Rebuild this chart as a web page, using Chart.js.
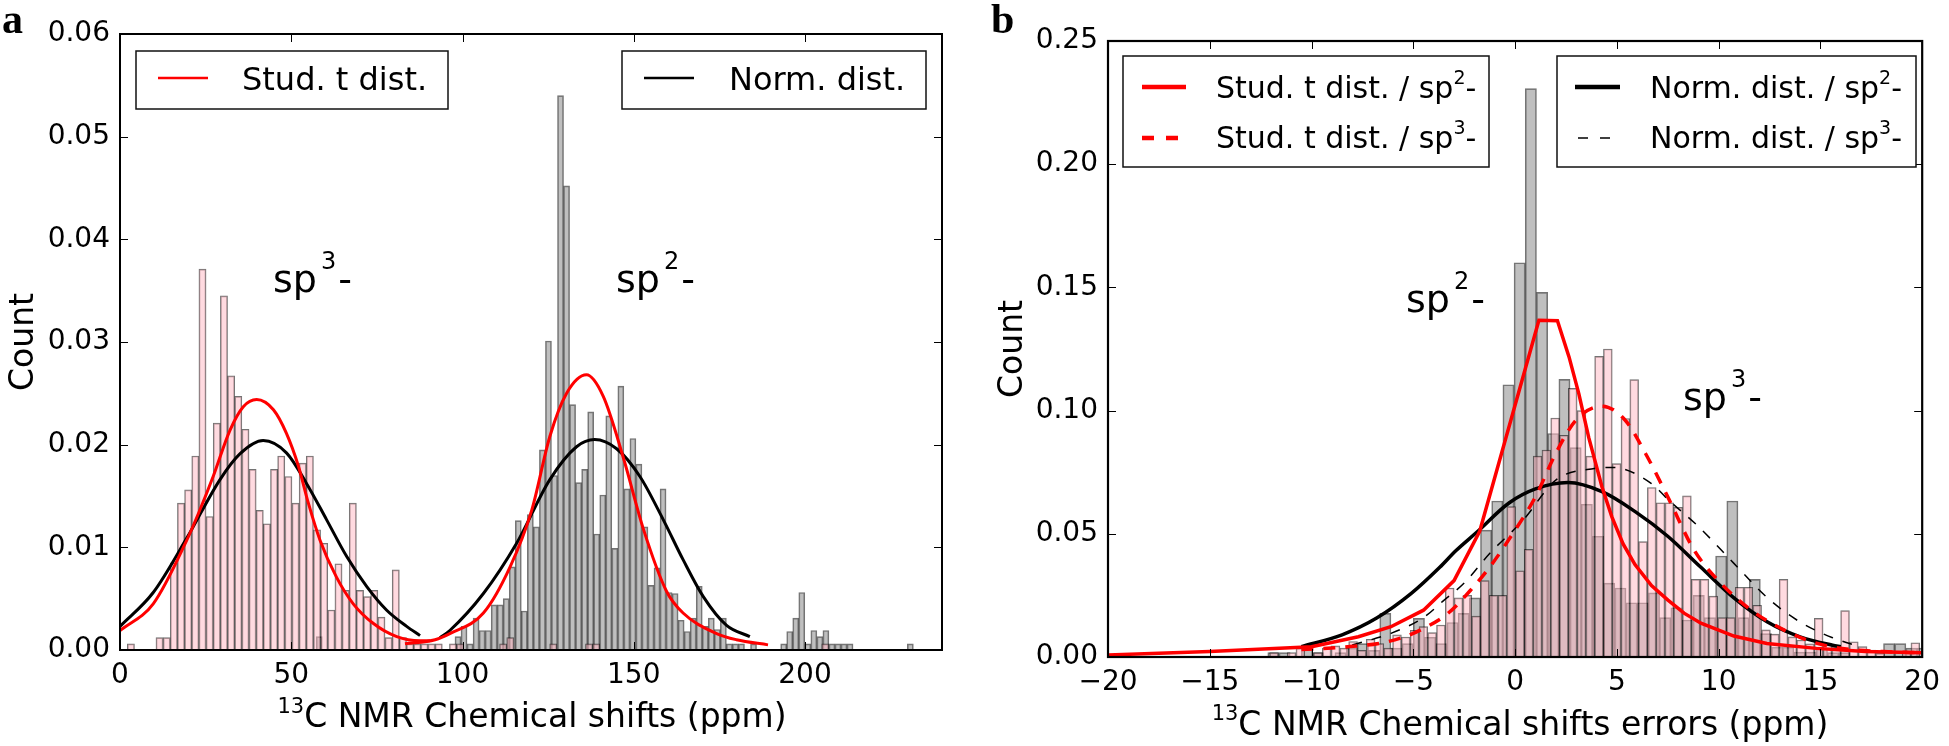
<!DOCTYPE html>
<html>
<head>
<meta charset="utf-8">
<script src="https://cdn.jsdelivr.net/npm/chart.js@4.4.1/dist/chart.umd.min.js"></script>
<style>
  body { margin: 0; background: #fff; }
  #chartA { position: absolute; left: 0; top: 0; }
  #chartB { position: absolute; left: 975px; top: 0; }
</style>
</head>
<body>
<canvas id="chartA" width="975" height="746"></canvas>
<canvas id="chartB" width="974" height="746"></canvas>
<script>
// ---------- panel a : chemical shifts ----------
const xTicksA = [0, 50, 100, 150, 200];
const xLabelsA = ['0', '50', '100', '150', '200'];
const yTicksA = [0, 0.01, 0.02, 0.03, 0.04, 0.05, 0.06];
const yLabelsA = ['0.00', '0.01', '0.02', '0.03', '0.04', '0.05', '0.06'];

// sp3 histogram (pink), 100 bins
const sp3BinStartA = 2.14, sp3BinWidthA = 2.09;
const sp3CountsA = [
  0.0006, 0, 0, 0, 0.0012, 0.0012, 0.0085, 0.0143, 0.0156, 0.0189,
  0.0371, 0.0130, 0.0221, 0.0345, 0.0267, 0.0247, 0.0215, 0.0176, 0.0136, 0.0123,
  0.0176, 0.0189, 0.0169, 0.0143, 0.0182, 0.0189, 0.0117, 0.0104, 0.0039, 0.0084,
  0.0058, 0.0143, 0.0058, 0.0052, 0.0058, 0.0032, 0.0012, 0.0078, 0.0012, 0.0006,
  0.0006, 0.0006, 0.0006, 0.0006, 0, 0.0006, 0.0006, 0, 0, 0,
  0, 0, 0.0006, 0.0012, 0, 0, 0, 0, 0, 0.0006,
  0, 0, 0, 0, 0.0006, 0.0006, 0, 0, 0, 0,
  0, 0, 0, 0, 0, 0, 0, 0, 0, 0,
  0, 0, 0, 0, 0, 0, 0, 0, 0, 0,
  0, 0, 0, 0, 0, 0, 0, 0.0006, 0, 0
];
// sp2 histogram (grey), 100 bins
const sp2BinStartA = 57.3, sp2BinWidthA = 1.761;
const sp2CountsA = [
  0.0013, 0, 0, 0, 0, 0, 0, 0, 0, 0,
  0, 0, 0, 0, 0, 0, 0, 0, 0, 0,
  0, 0, 0, 0.0013, 0.0023, 0.0006, 0.0031, 0.0019, 0.0019, 0.0044,
  0.0044, 0.0050, 0.0081, 0.0126, 0.0038, 0.0132, 0.0120, 0.0195, 0.0301, 0.0170,
  0.0540, 0.0452, 0.0239, 0.0163, 0.0176, 0.0232, 0.0113, 0.0151, 0.0228, 0.0099,
  0.0257, 0.0157, 0.0206, 0.0181, 0.0120, 0.0063, 0.0080, 0.0157, 0.0056, 0.0055,
  0.0029, 0.0018, 0.0031, 0.0062, 0.0023, 0.0031, 0.0020, 0.0031, 0.0006, 0.0006,
  0.0006, 0, 0.0006, 0, 0, 0, 0, 0.0006, 0.0018, 0.0031,
  0.0056, 0.0006, 0.0019, 0.0013, 0.0019, 0.0006, 0.0006, 0.0006, 0.0006, 0,
  0, 0, 0, 0, 0, 0, 0, 0, 0.0006, 0
];

// fitted curves, panel a
const studSp3XA = [0, 9.7, 19.5, 22.9, 27.2, 32.1, 36.0, 39.9, 44.8, 48.6, 52.1, 55.0, 58.4, 63.2, 68.1, 73.9, 80.8, 87.6, 90.5];
const studSp3YA = [0.0019, 0.0045, 0.0107, 0.0133, 0.0169, 0.0214, 0.0237, 0.0244, 0.0234, 0.0211, 0.0179, 0.0143, 0.0107, 0.0071, 0.0045, 0.0026, 0.0013, 0.0009, 0.0009];
const normSp3XA = [0, 9.7, 19.5, 29.2, 35.0, 41.8, 48.6, 54.5, 60.3, 66.2, 72.0, 77.8, 83.7, 87.6];
const normSp3YA = [0.0023, 0.0056, 0.0109, 0.0166, 0.0191, 0.0204, 0.0192, 0.0162, 0.0127, 0.0091, 0.0062, 0.0039, 0.0023, 0.0014];
const studSp2XA = [83.2, 92, 96.3, 106.1, 113.9, 120.2, 125.5, 130.4, 136.2, 141.1, 146.9, 152.8, 159.6, 164.4, 174.2, 180, 189.2];
const studSp2YA = [0.0006, 0.0010, 0.0016, 0.0036, 0.0081, 0.0136, 0.0208, 0.0250, 0.0268, 0.0247, 0.0188, 0.0118, 0.0057, 0.0036, 0.0016, 0.0010, 0.0005];
const normSp2XA = [93.4, 96.3, 106.1, 115.8, 125.5, 133.3, 138.6, 145, 151.8, 158.6, 164.4, 170.3, 177.1, 183.9];
const normSp2YA = [0.0012, 0.0019, 0.0055, 0.0104, 0.0166, 0.0198, 0.0205, 0.0196, 0.0169, 0.0127, 0.0088, 0.0052, 0.0024, 0.0013];

// ---------- panel b : chemical shift errors ----------
const xTicksB = [-20, -15, -10, -5, 0, 5, 10, 15, 20];
const xLabelsB = ['\u221220', '\u221215', '\u221210', '\u22125', '0', '5', '10', '15', '20'];
const yTicksB = [0, 0.05, 0.10, 0.15, 0.20, 0.25];
const yLabelsB = ['0.00', '0.05', '0.10', '0.15', '0.20', '0.25'];

const sp2BinStartB = -12.7, sp2BinWidthB = 0.55;
const sp2CountsB = [
  0, 0.0018, 0.0018, 0, 0.0036, 0.0018, 0, 0.0018, 0.0036, 0.0054,
  0.0027, 0.0177, 0.0036, 0.0054, 0.0157, 0.0080, 0.0054, 0.0140, 0.0177, 0.0240,
  0.0515, 0.0633, 0.1105, 0.160, 0.2307, 0.148, 0.0907, 0.1127, 0.085, 0.062,
  0.049, 0.030, 0.028, 0.022, 0.022, 0.026, 0.016, 0.020, 0.015, 0.025,
  0.016, 0.041, 0.0633, 0.016, 0.0315, 0.0095, 0.004, 0.004, 0.002, 0.002,
  0.0036, 0.0018, 0.0018, 0, 0, 0, 0.0054, 0.0054, 0.0036, 0.0036
];
const sp3BinStartB = -12.06, sp3BinWidthB = 0.4316;
const sp3CountsB = [
  0.0018, 0, 0.0018, 0.0036, 0, 0.0018, 0.0036, 0.0045, 0.0036, 0.0063,
  0.0027, 0.0072, 0.0054, 0.0036, 0.0090, 0.0081, 0.0108, 0.0123, 0.0099, 0.0130,
  0.028, 0.024, 0.025, 0.0166, 0.031, 0.025, 0.025, 0.061, 0.035, 0.0437,
  0.0815, 0.084, 0.097, 0.090, 0.109, 0.100, 0.0815, 0.122, 0.125, 0.0785,
  0.0968, 0.1126, 0.0468, 0.0688, 0.0626, 0.0626, 0.0607, 0.0654, 0.0315, 0.0315,
  0.0247, 0.016, 0.016, 0.0283, 0.0283, 0.021, 0.011, 0.0093, 0.0315, 0.0082,
  0.0069, 0.0053, 0.0157, 0.0053, 0.0042, 0.0188, 0.0062, 0.0042, 0.0028, 0.0015,
  0, 0, 0.002, 0.0058, 0
];

const studSp2XB = [-20, -15, -10, -7.7, -6.1, -4.5, -3.0, -1.74, 1.17, 2.08, 2.65, 3.13, 3.62, 4.27, 4.75, 5.3, 5.89, 6.7, 7.51, 8.3, 9.13, 10.75, 12.37, 14.8, 17.2, 20];
const studSp2YB = [0.0008, 0.0022, 0.0042, 0.0082, 0.0123, 0.019, 0.031, 0.051, 0.1367, 0.1365, 0.1218, 0.1069, 0.089, 0.069, 0.057, 0.046, 0.0375, 0.029, 0.0231, 0.0178, 0.0137, 0.0085, 0.0055, 0.0035, 0.0022, 0.0017];
const studSp3XB = [-10.5, -8.5, -6.7, -5.5, -4.5, -3.3, -2.2, -1.2, -0.2, 1.0, 2.0, 3.0, 4.27, 5.4, 6.4, 7.5, 8.8, 10.1, 11.6, 13.2, 14.85, 16.5, 18.1, 20];
const studSp3YB = [0.003, 0.004, 0.0055, 0.008, 0.0116, 0.0177, 0.027, 0.037, 0.049, 0.065, 0.0827, 0.0962, 0.1018, 0.0962, 0.0827, 0.065, 0.0433, 0.030, 0.019, 0.011, 0.0055, 0.003, 0.0022, 0.0017];
const normSp2XB = [-10.5, -8.5, -6.8, -5.1, -3.7, -2.9, -1.9, -0.3, 1.0, 2.6, 4.3, 5.9, 7.5, 9.1, 10.75, 12.4, 14.0, 15.6, 16.0];
const normSp2YB = [0.0042, 0.0090, 0.0158, 0.0258, 0.0364, 0.0432, 0.0505, 0.0625, 0.0682, 0.0708, 0.0670, 0.0590, 0.0490, 0.0366, 0.0240, 0.0142, 0.0082, 0.0048, 0.0042];
const normSp3XB = [-8.0, -6.1, -4.5, -3.5, -2.5, -1.25, 0.4, 2.0, 3.9, 4.8, 6.7, 7.5, 9.0, 10.75, 12.4, 14.0, 15.6, 16.6];
const normSp3YB = [0.0049, 0.0096, 0.016, 0.023, 0.030, 0.042, 0.0556, 0.0718, 0.0765, 0.0769, 0.0704, 0.0640, 0.053, 0.038, 0.024, 0.0142, 0.0078, 0.005];

// ---------- helpers ----------
const H = 746;
const FONT = '"DejaVu Sans", sans-serif';
Chart.defaults.font.family = FONT;
Chart.defaults.color = '#000';

const bins = (start, width, counts) => counts.map((c, i) => ({ x: start + (i + 0.5) * width, y: c }));
const pts = (xs, ys) => xs.map((x, i) => ({ x: x, y: ys[i] }));

function drawRich(ctx, parts, x, y, align) {
  let w = 0;
  for (const p of parts) { ctx.font = p[1] + 'px ' + FONT; w += ctx.measureText(p[0]).width + (p[3] || 0); }
  let cx = align === 'center' ? x - w / 2 : x;
  ctx.textAlign = 'left';
  ctx.textBaseline = 'alphabetic';
  for (const p of parts) {
    ctx.font = p[1] + 'px ' + FONT;
    cx += p[3] || 0;
    ctx.fillText(p[0], cx, y - (p[2] || 0));
    cx += ctx.measureText(p[0]).width;
  }
}

const decor = {
  id: 'decor',
  afterDraw(chart, args, o) {
    const ctx = chart.ctx, a = chart.chartArea, sx = chart.scales.x, sy = chart.scales.y;
    ctx.save();
    // inward ticks on all four sides
    ctx.strokeStyle = '#000';
    ctx.lineWidth = 1;
    ctx.beginPath();
    for (const v of o.xTicks) {
      const p = Math.round(sx.getPixelForValue(v)) + 0.5;
      ctx.moveTo(p, a.bottom); ctx.lineTo(p, a.bottom - 8);
      ctx.moveTo(p, a.top); ctx.lineTo(p, a.top + 8);
    }
    for (const v of o.yTicks) {
      const p = Math.round(sy.getPixelForValue(v)) + 0.5;
      ctx.moveTo(a.left, p); ctx.lineTo(a.left + 8, p);
      ctx.moveTo(a.right, p); ctx.lineTo(a.right - 8, p);
    }
    ctx.stroke();
    ctx.lineWidth = o.frame;
    ctx.strokeRect(a.left, a.top, a.right - a.left, a.bottom - a.top);

    // legends
    for (const lg of o.legends) {
      const [x0, y0, x1, y1] = lg.box;
      ctx.fillStyle = '#fff';
      ctx.fillRect(x0, y0, x1 - x0, y1 - y0);
      ctx.strokeStyle = '#111';
      ctx.lineWidth = 1.5;
      ctx.setLineDash([]);
      ctx.strokeRect(x0, y0, x1 - x0, y1 - y0);
      for (const r of lg.rows) {
        ctx.strokeStyle = r.color;
        ctx.lineWidth = r.w;
        ctx.setLineDash(r.dash);
        ctx.beginPath();
        ctx.moveTo(r.x0, r.y); ctx.lineTo(r.x1, r.y);
        ctx.stroke();
        ctx.setLineDash([]);
        ctx.fillStyle = '#000';
        drawRich(ctx, r.parts, r.tx, r.ty, 'left');
      }
    }

    // annotations
    ctx.fillStyle = '#000';
    for (const n of o.notes) drawRich(ctx, n.parts, n.x, n.y, 'left');

    // axis titles
    drawRich(ctx, o.xTitle.parts, o.xTitle.x, o.xTitle.y, 'center');
    ctx.save();
    ctx.translate(o.yTitle.x, o.yTitle.y);
    ctx.rotate(-Math.PI / 2);
    ctx.font = o.yTitle.size + 'px ' + FONT;
    ctx.textAlign = 'center';
    ctx.textBaseline = 'alphabetic';
    ctx.fillText(o.yTitle.text, 0, 0);
    ctx.restore();

    // panel letter
    ctx.font = 'bold 42px "Liberation Serif", serif';
    ctx.textAlign = 'left';
    ctx.textBaseline = 'alphabetic';
    ctx.fillText(o.letter.text, o.letter.x, o.letter.y);
    ctx.restore();
  }
};

function makeChart(id, c) {
  return new Chart(document.getElementById(id), {
    type: 'bar',
    data: { datasets: c.datasets },
    options: {
      responsive: false,
      animation: false,
      events: [],
      layout: { padding: { left: 0, top: c.area.top, right: c.width - c.area.right, bottom: 0 } },
      plugins: { legend: { display: false }, tooltip: { enabled: false }, decor: c.decor },
      scales: {
        x: {
          type: 'linear', min: c.xMin, max: c.xMax, offset: false,
          grid: { display: false, drawTicks: false }, border: { display: false },
          afterBuildTicks: s => { s.ticks = c.xTicks.map(v => ({ value: v })); },
          afterFit: s => { s.height = H - c.area.bottom; },
          ticks: { autoSkip: false, maxRotation: 0, padding: 9, color: '#000', font: { size: 28 },
                   callback: (v, i) => c.xLabels[i] }
        },
        x2: { type: 'linear', min: c.xMin, max: c.xMax, offset: false, display: false },
        y: {
          type: 'linear', min: 0, max: c.yMax,
          grid: { display: false, drawTicks: false }, border: { display: false },
          afterBuildTicks: s => { s.ticks = c.yTicks.map(v => ({ value: v })); },
          afterFit: s => { s.width = c.area.left; },
          ticks: { padding: 10, color: '#000', font: { size: 28 }, callback: (v, i) => c.yLabels[i] }
        }
      }
    },
    plugins: [decor]
  });
}

const histStyle = {
  barPercentage: 1, categoryPercentage: 1, grouped: false,
  borderWidth: 1, borderColor: 'rgba(0,0,0,0.55)'
};
const greyFill = 'rgba(128,128,128,0.5)';
const pinkFill = 'rgba(255,182,193,0.5)';
const lineStyle = (color, w, dash, order, smooth) => ({
  type: 'line', borderColor: color, borderWidth: w, borderDash: dash, pointRadius: 0,
  fill: false, order: order, cubicInterpolationMode: smooth ? 'monotone' : 'default', tension: 0
});

// ---------- chart a ----------
makeChart('chartA', {
  width: 975,
  area: { left: 120, top: 34, right: 942, bottom: 650 },
  xMin: 0, xMax: 240, yMax: 0.06,
  xTicks: xTicksA, xLabels: xLabelsA, yTicks: yTicksA, yLabels: yLabelsA,
  datasets: [
    Object.assign({ label: 'sp2', data: bins(sp2BinStartA, sp2BinWidthA, sp2CountsA), xAxisID: 'x2',
                    backgroundColor: greyFill, order: 10 }, histStyle),
    Object.assign({ label: 'sp3', data: bins(sp3BinStartA, sp3BinWidthA, sp3CountsA), xAxisID: 'x',
                    backgroundColor: pinkFill, order: 9 }, histStyle),
    Object.assign({ label: 'Norm. dist. sp3', data: pts(normSp3XA, normSp3YA) }, lineStyle('#000', 3, [], 2, true)),
    Object.assign({ label: 'Norm. dist. sp2', data: pts(normSp2XA, normSp2YA) }, lineStyle('#000', 3, [], 2, true)),
    Object.assign({ label: 'Stud. t dist. sp3', data: pts(studSp3XA, studSp3YA) }, lineStyle('#ff0000', 3, [], 1, true)),
    Object.assign({ label: 'Stud. t dist. sp2', data: pts(studSp2XA, studSp2YA) }, lineStyle('#ff0000', 3, [], 1, true))
  ],
  decor: {
    frame: 2, xTicks: xTicksA, yTicks: yTicksA,
    legends: [
      { box: [136, 51, 448, 109], rows: [
        { x0: 158, x1: 208, y: 78, color: '#ff0000', w: 2.5, dash: [], tx: 242, ty: 90, parts: [['Stud. t dist.', 32]] }] },
      { box: [622, 51, 926, 109], rows: [
        { x0: 644, x1: 694, y: 78, color: '#000', w: 2.5, dash: [], tx: 729, ty: 90, parts: [['Norm. dist.', 32]] }] }
    ],
    notes: [
      { x: 273, y: 292, parts: [['sp', 38], ['3', 24, 23, 4], ['-', 38, 0, 2]] },
      { x: 616, y: 292, parts: [['sp', 38], ['2', 24, 23, 4], ['-', 38, 0, 2]] }
    ],
    xTitle: { x: 532, y: 727, parts: [['13', 21, 14], ['C NMR Chemical shifts (ppm)', 33]] },
    yTitle: { x: 33, y: 342, size: 33, text: 'Count' },
    letter: { x: 2, y: 33, text: 'a' }
  }
});

// ---------- chart b ----------
makeChart('chartB', {
  width: 974,
  area: { left: 133, top: 41, right: 955, bottom: 657 },
  xMin: -20, xMax: 20, yMax: 0.25,
  xTicks: xTicksB, xLabels: xLabelsB, yTicks: yTicksB, yLabels: yLabelsB,
  datasets: [
    Object.assign({ label: 'sp2 errors', data: bins(sp2BinStartB, sp2BinWidthB, sp2CountsB), xAxisID: 'x2',
                    backgroundColor: greyFill, order: 10 }, histStyle),
    Object.assign({ label: 'sp3 errors', data: bins(sp3BinStartB, sp3BinWidthB, sp3CountsB), xAxisID: 'x',
                    backgroundColor: pinkFill, order: 9 }, histStyle),
    Object.assign({ label: 'Norm. dist. / sp3-', data: pts(normSp3XB, normSp3YB) }, lineStyle('#000', 1.5, [10, 10], 4, true)),
    Object.assign({ label: 'Norm. dist. / sp2-', data: pts(normSp2XB, normSp2YB) }, lineStyle('#000', 3.5, [], 3, true)),
    Object.assign({ label: 'Stud. t dist. / sp3-', data: pts(studSp3XB, studSp3YB) }, lineStyle('#ff0000', 3.5, [12, 10], 2, true)),
    Object.assign({ label: 'Stud. t dist. / sp2-', data: pts(studSp2XB, studSp2YB) }, lineStyle('#ff0000', 3.5, [], 1, false))
  ],
  decor: {
    frame: 2.2, xTicks: xTicksB, yTicks: yTicksB,
    legends: [
      { box: [148, 56, 514, 167], rows: [
        { x0: 167, x1: 211, y: 87, color: '#ff0000', w: 4.5, dash: [], tx: 241, ty: 98,
          parts: [['Stud. t dist. / sp', 30], ['2', 19, 14], ['-', 30]] },
        { x0: 167, x1: 211, y: 138, color: '#ff0000', w: 4.5, dash: [12, 12], tx: 241, ty: 148,
          parts: [['Stud. t dist. / sp', 30], ['3', 19, 14], ['-', 30]] }] },
      { box: [582, 56, 941, 167], rows: [
        { x0: 600, x1: 645, y: 87, color: '#000', w: 4.5, dash: [], tx: 675, ty: 98,
          parts: [['Norm. dist. / sp', 30], ['2', 19, 14], ['-', 30]] },
        { x0: 603, x1: 645, y: 138, color: '#000', w: 1.5, dash: [10, 12], tx: 675, ty: 148,
          parts: [['Norm. dist. / sp', 30], ['3', 19, 14], ['-', 30]] }] }
    ],
    notes: [
      { x: 431, y: 312, parts: [['sp', 38], ['2', 24, 23, 4], ['-', 38, 0, 2]] },
      { x: 708, y: 410, parts: [['sp', 38], ['3', 24, 23, 4], ['-', 38, 0, 2]] }
    ],
    xTitle: { x: 545, y: 735, parts: [['13', 21, 15], ['C NMR Chemical shifts errors (ppm)', 33]] },
    yTitle: { x: 47, y: 349, size: 33, text: 'Count' },
    letter: { x: 16, y: 33, text: 'b' }
  }
});
</script>
</body>
</html>
